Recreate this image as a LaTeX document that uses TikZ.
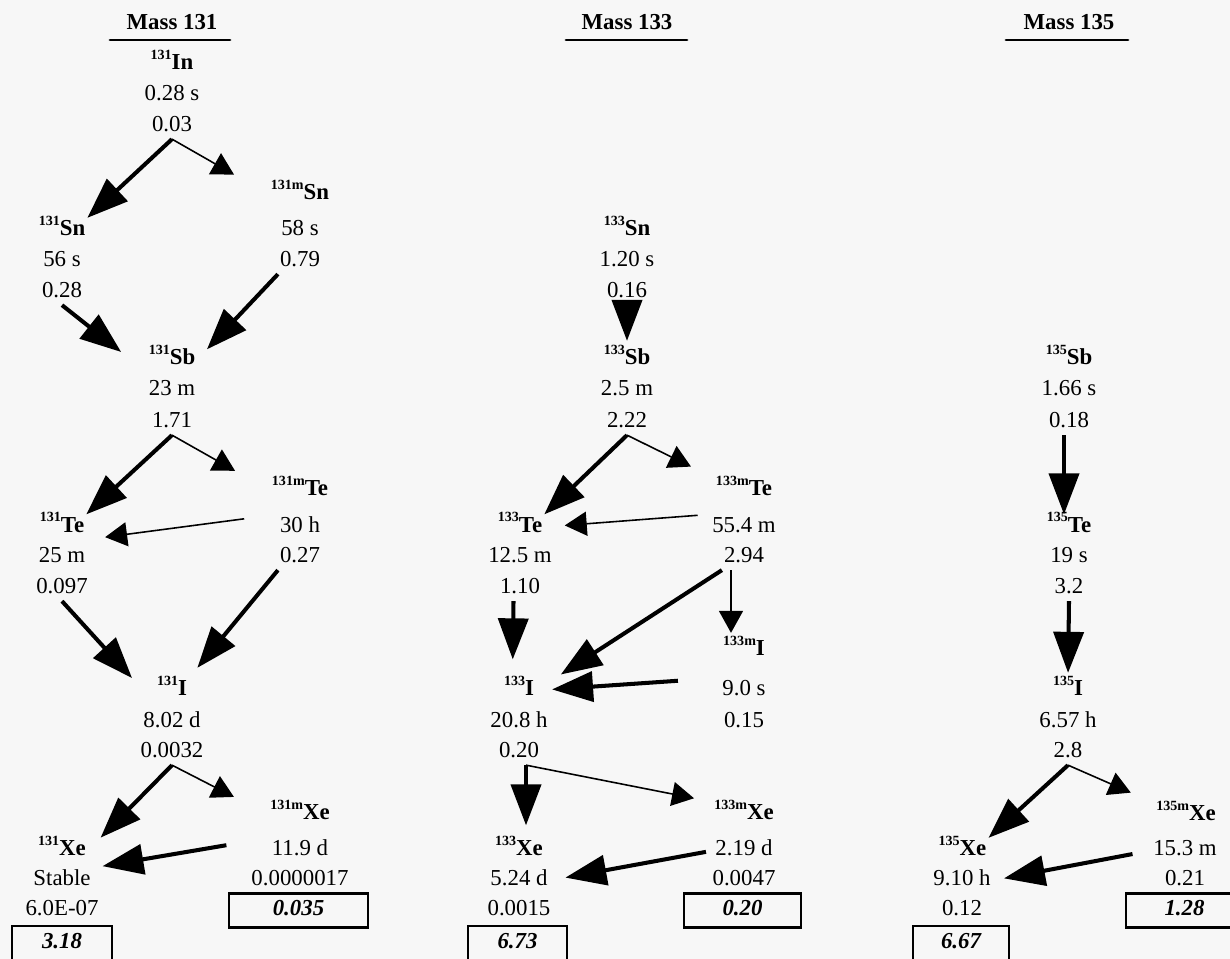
\documentclass[tikz,border=0pt]{standalone}
\usepackage{fontspec}
\setmainfont{Liberation Serif}
\usepackage{tikz}
\usetikzlibrary{arrows.meta}

\definecolor{paper}{HTML}{F7F7F7}
\newcommand{\iso}[2]{\textbf{\raisebox{6pt}{\fontsize{8}{9}\selectfont #1}#2}}

\begin{document}
\begin{tikzpicture}[
    every node/.style={font=\fontsize{13}{15}\selectfont, inner sep=1pt, text height=9pt, text depth=3pt},
    heading/.style={font=\fontsize{13}{15}\selectfont\bfseries},
    headrule/.style={line width=1.6pt, line cap=round},
    valbox/.style={draw, line width=1.4pt, minimum height=0.68cm, font=\fontsize{13}{15}\selectfont\bfseries\itshape},
    major/.style={line width=2.3pt, -{Triangle[length=0.82cm,width=0.6cm]}},
    minor/.style={line width=0.9pt, -{Triangle[length=0.44cm,width=0.48cm]}}
  ]
  \useasboundingbox (0,0) rectangle (24.6,-19.18);
  \fill[paper] (0,0) rectangle (24.6,-19.18);

  % Mass 131
  \node[heading] (m131) at (3.44,-0.49) {Mass 131};
  \draw[headrule] (2.20,-0.80) -- (4.60,-0.80);
  \node (in131) at (3.44,-1.29) {\iso{131}{In}};
  \node (in131t) at (3.44,-1.91) {0.28 s};
  \node (in131y) at (3.44,-2.53) {0.03};
  \node (snm131) at (6.00,-3.89) {\iso{131m}{Sn}};
  \node (snm131t) at (6.00,-4.61) {58 s};
  \node (snm131y) at (6.00,-5.23) {0.79};
  \node (sn131) at (1.24,-4.61) {\iso{131}{Sn}};
  \node (sn131t) at (1.24,-5.23) {56 s};
  \node (sn131y) at (1.24,-5.85) {0.28};
  \node (sb131) at (3.44,-7.19) {\iso{131}{Sb}};
  \node (sb131t) at (3.44,-7.81) {23 m};
  \node (sb131y) at (3.44,-8.45) {1.71};
  \node (tem131) at (6.00,-9.81) {\iso{131m}{Te}};
  \node (tem131t) at (6.00,-10.54) {30 h};
  \node (tem131y) at (6.00,-11.15) {0.27};
  \node (te131) at (1.24,-10.54) {\iso{131}{Te}};
  \node (te131t) at (1.24,-11.15) {25 m};
  \node (te131y) at (1.24,-11.77) {0.097};
  \node (i131) at (3.44,-13.81) {\iso{131}{I}};
  \node (i131t) at (3.44,-14.45) {8.02 d};
  \node (i131y) at (3.44,-15.05) {0.0032};
  \node (xem131) at (6.00,-16.29) {\iso{131m}{Xe}};
  \node (xem131t) at (6.00,-17.01) {11.9 d};
  \node (xem131y) at (6.00,-17.61) {0.0000017};
  \node[valbox, minimum width=2.78cm] (xem131c) at (5.97,-18.21) {0.035};
  \node (xe131) at (1.24,-17.01) {\iso{131}{Xe}};
  \node (xe131t) at (1.24,-17.61) {Stable};
  \node (xe131y) at (1.24,-18.21) {6.0E-07};
  \node[valbox, minimum width=2.0cm] (xe131c) at (1.24,-18.86) {3.18};

  \draw[major] (in131y.south) -- (sn131.north east);
  \draw[minor, shorten >=0.8cm] (in131y.south) -- (snm131.west);
  \draw[major, shorten >=0.65cm] (sn131y.south) -- (sb131.south west);
  \draw[major, shorten >=0.28cm] (snm131y.south west) -- (sb131.east);
  \draw[major] (sb131y.south) -- (te131.north east);
  \draw[minor, shorten >=0.8cm] (sb131y.south) -- (tem131.west);
  \draw[minor, shorten <=0.68cm, shorten >=0.38cm] (tem131t.north west) -- (te131.south east);
  \draw[major, shorten >=0.68cm] (te131y.south) -- (i131.south west);
  \draw[major, shorten >=0.26cm] (tem131y.south west) -- (i131.north east);
  \draw[major, shorten >=0.36cm] (i131y.south) -- (xe131.east);
  \draw[minor, shorten >=0.77cm] (i131y.south) -- (xem131.west);
  \draw[major, shorten <=0.88cm, shorten >=0.2cm] (xem131t.north west) -- (xe131t.north east);

  % Mass 133
  \node[heading] (m133) at (12.54,-0.49) {Mass 133};
  \draw[headrule] (11.32,-0.80) -- (13.74,-0.80);
  \node (sn133) at (12.54,-4.61) {\iso{133}{Sn}};
  \node (sn133t) at (12.54,-5.23) {1.20 s};
  \node (sn133y) at (12.54,-5.85) {0.16};
  \node (sb133) at (12.54,-7.19) {\iso{133}{Sb}};
  \node (sb133t) at (12.54,-7.81) {2.5 m};
  \node (sb133y) at (12.54,-8.45) {2.22};
  \node (tem133) at (14.88,-9.81) {\iso{133m}{Te}};
  \node (tem133t) at (14.88,-10.54) {55.4 m};
  \node (tem133y) at (14.88,-11.15) {2.94};
  \node (te133) at (10.40,-10.54) {\iso{133}{Te}};
  \node (te133t) at (10.40,-11.15) {12.5 m};
  \node (te133y) at (10.40,-11.77) {1.10};
  \node (im133) at (14.88,-13.01) {\iso{133m}{I}};
  \node (im133t) at (14.88,-13.81) {9.0 s};
  \node (im133y) at (14.88,-14.45) {0.15};
  \node (i133) at (10.38,-13.81) {\iso{133}{I}};
  \node (i133t) at (10.38,-14.45) {20.8 h};
  \node (i133y) at (10.38,-15.05) {0.20};
  \node (xem133) at (14.88,-16.29) {\iso{133m}{Xe}};
  \node (xem133t) at (14.88,-17.01) {2.19 d};
  \node (xem133y) at (14.88,-17.61) {0.0047};
  \node[valbox, minimum width=2.34cm] (xem133c) at (14.85,-18.21) {0.20};
  \node (xe133) at (10.38,-17.01) {\iso{133}{Xe}};
  \node (xe133t) at (10.38,-17.61) {5.24 d};
  \node (xe133y) at (10.38,-18.21) {0.0015};
  \node[valbox, minimum width=1.98cm] (xe133c) at (10.35,-18.86) {6.73};

  \draw[major, shorten >=0.12cm] (sn133y.south) -- (sb133.north);
  \draw[major] (sb133y.south) -- (te133.north east);
  \draw[minor, shorten >=0.51cm] (sb133y.south) -- (tem133.north west);
  \draw[minor, shorten <=0.25cm, shorten >=0.41cm] (tem133t.north west) -- (te133.east);
  \draw[major, shorten >=0.59cm] (tem133y.south west) -- (i133.east);
  \draw[minor, shorten >=0.1cm] ([xshift=-0.26cm]tem133y.south) -- ([xshift=-0.26cm]im133.north);
  \draw[major, shorten >=0.37cm] ([xshift=-0.13cm]te133y.south) -- ([xshift=-0.13cm]i133.north);
  \draw[major, shorten <=0.85cm, shorten >=0.32cm] (im133t.north west) -- (i133.east);
  \draw[major, shorten >=0.25cm] ([xshift=0.14cm]i133y.south) -- ([xshift=0.14cm]xe133.north);
  \draw[minor, shorten >=0.37cm] ([xshift=0.14cm]i133y.south) -- (xem133.north west);
  \draw[major, shorten <=0.15cm, shorten >=0.32cm] (xem133t.west) -- (xe133t.east);

  % Mass 135
  \node[heading] (m135) at (21.38,-0.49) {Mass 135};
  \draw[headrule] (20.12,-0.80) -- (22.56,-0.80);
  \node (sb135) at (21.38,-7.19) {\iso{135}{Sb}};
  \node (sb135t) at (21.38,-7.81) {1.66 s};
  \node (sb135y) at (21.38,-8.45) {0.18};
  \node (te135) at (21.38,-10.54) {\iso{135}{Te}};
  \node (te135t) at (21.38,-11.15) {19 s};
  \node (te135y) at (21.38,-11.77) {3.2};
  \node (i135) at (21.36,-13.81) {\iso{135}{I}};
  \node (i135t) at (21.36,-14.45) {6.57 h};
  \node (i135y) at (21.36,-15.05) {2.8};
  \node (xem135) at (23.72,-16.31) {\iso{135m}{Xe}};
  \node (xem135t) at (23.70,-17.01) {15.3 m};
  \node (xem135y) at (23.70,-17.61) {0.21};
  \node[valbox, minimum width=2.34cm] (xem135c) at (23.69,-18.21) {1.28};
  \node (xe135) at (19.25,-17.01) {\iso{135}{Xe}};
  \node (xe135t) at (19.24,-17.61) {9.10 h};
  \node (xe135y) at (19.24,-18.21) {0.12};
  \node[valbox, minimum width=1.92cm] (xe135c) at (19.22,-18.86) {6.67};

  \draw[major] ([xshift=-0.1cm]sb135y.south) -- ([xshift=-0.1cm]te135.north);
  \draw[major, shorten >=0.1cm] (te135y.south) -- (i135.north);
  \draw[major] (i135y.south) -- (xe135.north east);
  \draw[minor, shorten >=0.51cm] (i135y.south) -- (xem135.north west);
  \draw[major, shorten <=0.38cm, shorten >=0.23cm] (xem135t.west) -- (xe135t.east);
\end{tikzpicture}
\end{document}
